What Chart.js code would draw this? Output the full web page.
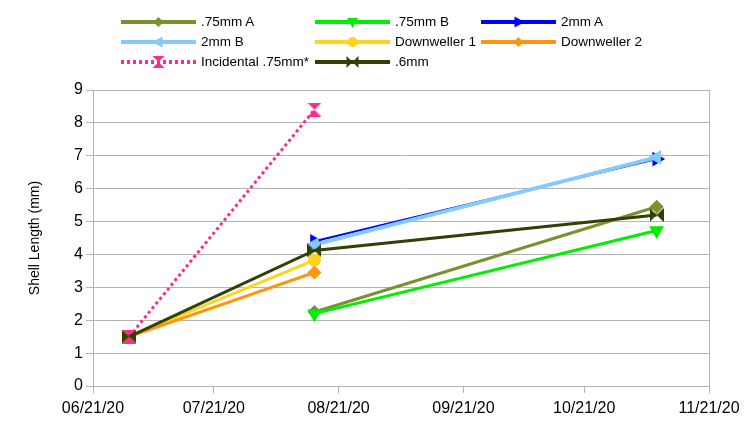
<!DOCTYPE html>
<html>
<head>
<meta charset="utf-8">
<script src="https://cdn.jsdelivr.net/npm/chart.js@4/dist/chart.umd.min.js"></script>
<style>
  html, body { margin: 0; padding: 0; background: #fff; }
  #wrap { position: relative; width: 756px; height: 425px; }
  #legend { position: absolute; left: 0; top: 0; width: 756px; height: 80px;
    font-family: "Liberation Sans", Arial, sans-serif; font-size: 13.5px; color: #000; }
  .item { position: absolute; height: 20px; line-height: 20px; white-space: nowrap; }
  .item svg { position: absolute; left: 0; top: 0; }
  .item span { position: absolute; top: 0; }
</style>
</head>
<body>
<div id="wrap">
  <canvas id="shellChart" width="756" height="425"></canvas>
  <div id="legend"></div>
</div>
<script>
// fechas de muestreo y etiquetas del eje x
const sampleDates = ['06/30/20', '08/15/20', '11/08/20'];
const tickDates = ['06/21/20', '07/21/20', '08/21/20', '09/21/20', '10/21/20', '11/21/20'];

// series (mm), null = sin dato
const seriesNames = ['.75mm A', '.75mm B', '2mm A', '2mm B', 'Downweller 1', 'Downweller 2', 'Incidental .75mm*', '.6mm'];
const mm75A = [null, 2.25, 5.45];
const mm75B = [null, 2.2, 4.73];
const mm2A = [null, 4.4, 6.9];
const mm2B = [null, 4.3, 6.95];
const downweller1 = [1.5, 3.83, null];
const downweller2 = [1.5, 3.45, null];
const incidental75 = [1.5, 8.4, null];
const mm06 = [1.5, 4.12, 5.2];

const yTicks = [0, 1, 2, 3, 4, 5, 6, 7, 8, 9];

const base = Date.UTC(2020, 5, 21);
const dayOf = (s) => {
  const [m, d, y] = s.split('/').map(Number);
  return (Date.UTC(2000 + y, m - 1, d) - base) / 86400000;
};
const sampleDays = sampleDates.map(dayOf);
const tickDays = tickDates.map(dayOf);

const toPoints = (vals) => vals.map((v, i) => ({ x: sampleDays[i], y: v })).filter(p => p.y !== null);

// marcador reloj de arena (se rota para el de .6mm)
const hourglass = (color) => {
  const c = document.createElement('canvas');
  c.width = 14; c.height = 14;
  const g = c.getContext('2d');
  g.fillStyle = color;
  g.beginPath();
  g.moveTo(0, 0); g.lineTo(14, 0); g.lineTo(7, 7); g.closePath();
  g.moveTo(0, 14); g.lineTo(14, 14); g.lineTo(7, 7); g.closePath();
  g.fill();
  return c;
};

const styles = [
  { color: '#77922e', width: 3, point: 'rectRot', radius: 7, rot: 0 },
  { color: '#00ee00', width: 3, point: 'triangle', radius: 8.5, rot: 180 },
  { color: '#0000ff', width: 2, point: 'triangle', radius: 8.5, rot: 90 },
  { color: '#83caff', width: 4, point: 'triangle', radius: 8.5, rot: 270 },
  { color: '#ffd320', width: 3, point: 'circle', radius: 6.5, rot: 0 },
  { color: '#ff950e', width: 3, point: 'rectRot', radius: 7, rot: 0 },
  { color: '#ff2a8a', width: 3, point: hourglass('#ff2a8a'), radius: 7, rot: 0, dash: [3, 3] },
  { color: '#314004', width: 3, point: hourglass('#314004'), radius: 7, rot: 90 }
];

const allValues = [mm75A, mm75B, mm2A, mm2B, downweller1, downweller2, incidental75, mm06];

const datasets = allValues.map((vals, i) => ({
  label: seriesNames[i],
  data: toPoints(vals),
  borderColor: styles[i].color,
  backgroundColor: styles[i].color,
  borderWidth: styles[i].width,
  borderDash: styles[i].dash || [],
  borderCapStyle: 'butt',
  pointStyle: styles[i].point,
  pointRadius: styles[i].radius,
  pointRotation: styles[i].rot,
  pointBorderWidth: 0,
  order: allValues.length - i
}));

new Chart(document.getElementById('shellChart'), {
  type: 'line',
  data: { datasets },
  options: {
    responsive: false,
    animation: false,
    layout: { padding: { top: 90, right: 47, left: 0, bottom: 0 } },
    plugins: { legend: { display: false }, tooltip: { enabled: false } },
    scales: {
      x: {
        type: 'linear',
        min: tickDays[0],
        max: tickDays[tickDays.length - 1],
        afterBuildTicks: (s) => { s.ticks = tickDays.map(v => ({ value: v })); },
        afterFit: (s) => { s.height = 39; },
        ticks: {
          autoSkip: false, maxRotation: 0, padding: 6, color: '#000',
          font: { family: 'Liberation Sans', size: 16 },
          callback: (v) => tickDates[tickDays.indexOf(v)]
        },
        grid: {
          color: (ctx) => ctx.index === tickDays.length - 1 ? '#b3b3b3' : 'transparent',
          tickColor: '#b3b3b3', tickLength: 7
        },
        border: { color: '#b3b3b3' }
      },
      y: {
        min: 0, max: 9,
        afterBuildTicks: (s) => { s.ticks = yTicks.map(v => ({ value: v })); },
        afterFit: (s) => { s.width = 93; },
        ticks: { padding: 3, color: '#000', font: { family: 'Liberation Sans', size: 16 } },
        grid: { color: '#b3b3b3', tickLength: 7 },
        border: { color: '#b3b3b3' },
        title: {
          display: true, text: 'Shell Length (mm)', color: '#000',
          font: { family: 'Liberation Sans', size: 14 }, padding: { top: 27 }
        }
      }
    }
  }
});

// leyenda en 3 columnas como la original
const legendCols = [121, 315, 481];
const legendRows = [12, 32, 52];
const svgMarker = (st) => {
  const c = st.color, cx = 37.5, cy = 10;
  if (st.point === 'rectRot') return `<polygon points="${cx},${cy-5} ${cx+5},${cy} ${cx},${cy+5} ${cx-5},${cy}" fill="${c}"/>`;
  if (st.point === 'circle') return `<circle cx="${cx}" cy="${cy}" r="5" fill="${c}"/>`;
  if (st.point === 'triangle') return `<polygon points="${cx},${cy-6} ${cx+5.5},${cy+4} ${cx-5.5},${cy+4}" fill="${c}" transform="rotate(${st.rot} ${cx} ${cy})"/>`;
  return `<polygon points="${cx-6},${cy-6} ${cx+6},${cy-6} ${cx-6},${cy+6} ${cx+6},${cy+6}" fill="${c}" transform="rotate(${st.rot} ${cx} ${cy})"/>`;
};
const legend = document.getElementById('legend');
seriesNames.forEach((name, i) => {
  const st = styles[i];
  const dash = st.dash ? `stroke-dasharray="${st.dash.join(' ')}"` : '';
  const div = document.createElement('div');
  div.className = 'item';
  div.style.left = legendCols[i % 3] + 'px';
  div.style.top = legendRows[Math.floor(i / 3)] + 'px';
  div.innerHTML = `<svg width="76" height="20"><line x1="0" y1="10" x2="75" y2="10" stroke="${st.color}" stroke-width="${Math.max(st.width, 4)}" ${dash}/>${svgMarker(st)}</svg><span style="left:80px">${name}</span>`;
  legend.appendChild(div);
});
</script>
</body>
</html>
